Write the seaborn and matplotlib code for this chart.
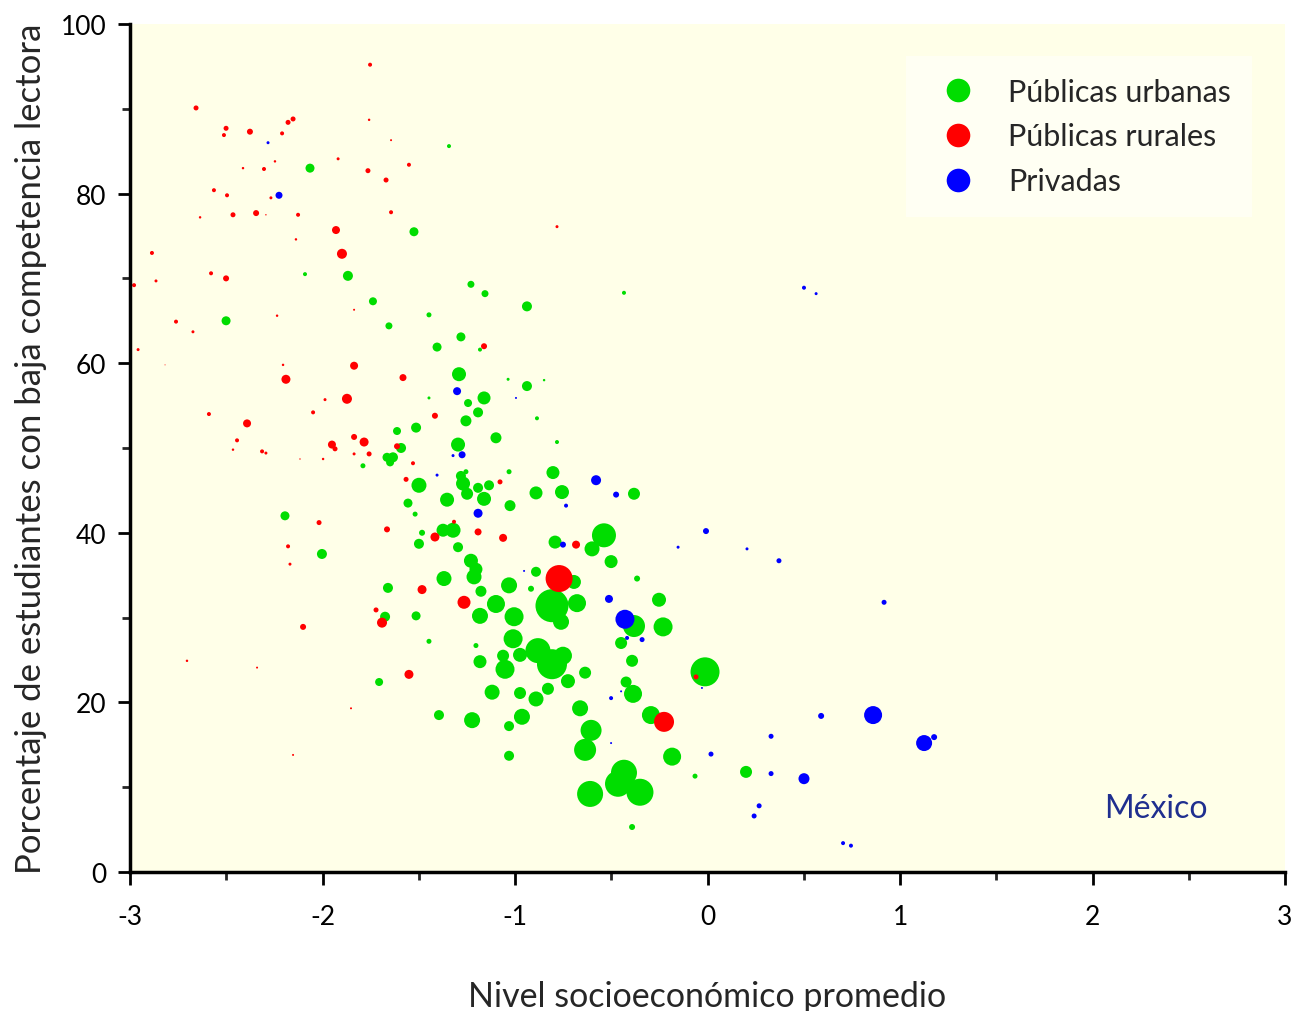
import numpy as np
import pandas as pd
import seaborn as sns
import matplotlib.pyplot as plt
from matplotlib.lines import Line2D

# Públicas urbanas: nivel socioeconómico, % baja competencia, alumnos evaluados
urb_x = [-2.065, -1.343, -1.525, -2.501, -1.868, -2.091, -1.738, -1.655, -1.447, -1.229,
         -1.156, -0.938, -0.434, -1.281, -1.405, -1.182, -1.291, -1.036, -0.938, -0.849,
         -1.447, -1.161, -1.244, -1.192, -1.255, -0.886, -1.514, -1.613, -1.099, -1.296,
         -1.592, -1.665, -1.634, -1.649, -0.782, -1.790, -1.499, -1.281, -1.255, -1.270,
         -1.249, -1.192, -1.135, -1.031, -0.803, -0.891, -0.756, -1.353, -1.161, -1.026,
         -1.556, -1.519, -1.374, -1.322, -1.483, -1.499, -1.296, -0.792, -0.382, -0.538,
         -0.600, -0.501, -0.366, -2.195, -2.003, -1.229, -1.203, -1.213, -1.369, -0.891,
         -1.031, -0.917, -1.660, -1.177, -1.099, -1.675, -1.514, -1.182, -1.005, -0.808,
         -0.694, -0.678, -0.252, -0.761, -0.382, -0.231, -1.447, -1.203, -1.010, -1.062,
         -0.974, -0.881, -0.808, -0.751, -0.725, -0.829, -1.182, -1.052, -0.636, -0.449,
         -0.392, -0.013, -0.423, -0.387, -1.706, -1.119, -0.974, -0.891, -0.662, -0.294,
         -1.395, -1.223, -0.964, -1.031, -0.605, -0.636, -1.031, -0.184, -0.434, -0.465,
         -0.351, -0.610, -0.392, -0.065, 0.200]
urb_y = [83.0, 85.6, 75.5, 65.0, 70.3, 70.5, 67.3, 64.4, 65.7, 69.3,
         68.2, 66.7, 68.3, 63.1, 61.9, 61.6, 58.7, 58.1, 57.3, 58.0,
         55.9, 55.9, 55.3, 54.2, 53.2, 53.5, 52.4, 52.0, 51.2, 50.4,
         50.0, 48.9, 48.9, 48.3, 50.7, 47.9, 45.6, 46.7, 47.2, 45.8,
         44.6, 45.3, 45.6, 47.2, 47.1, 44.7, 44.8, 43.9, 44.0, 43.2,
         43.5, 42.2, 40.3, 40.3, 40.0, 38.7, 38.3, 38.9, 44.6, 39.7,
         38.1, 36.6, 34.6, 42.0, 37.5, 36.7, 35.7, 34.8, 34.6, 35.4,
         33.8, 33.4, 33.5, 33.1, 31.6, 30.1, 30.2, 30.2, 30.1, 31.4,
         34.2, 31.7, 32.1, 29.5, 29.0, 28.9, 27.2, 26.7, 27.5, 25.5,
         25.6, 26.1, 24.5, 25.5, 22.5, 21.6, 24.8, 23.9, 23.5, 27.0,
         24.9, 23.6, 22.4, 21.0, 22.4, 21.2, 21.1, 20.4, 19.3, 18.5,
         18.5, 17.9, 18.3, 17.2, 16.7, 14.4, 13.7, 13.6, 11.7, 10.4,
         9.4, 9.2, 5.3, 11.3, 11.8]
urb_n = [81, 16, 81, 81, 100, 16, 64, 49, 25, 49,
         49, 100, 16, 81, 81, 16, 196, 9, 100, 6,
         9, 169, 64, 100, 121, 16, 100, 64, 121, 196,
         100, 81, 100, 64, 16, 25, 225, 100, 25, 196,
         144, 100, 100, 25, 169, 169, 196, 196, 196, 121,
         81, 25, 169, 225, 36, 100, 100, 169, 144, 576,
         225, 169, 36, 81, 100, 196, 169, 225, 225, 100,
         256, 36, 100, 121, 324, 100, 81, 256, 361, 1089,
         196, 324, 196, 256, 484, 361, 25, 25, 361, 144,
         196, 625, 900, 324, 196, 144, 169, 361, 144, 144,
         144, 841, 121, 324, 64, 225, 144, 225, 256, 324,
         100, 256, 256, 100, 441, 484, 100, 324, 676, 676,
         729, 676, 36, 25, 144]

# Públicas rurales
rur_x = [-1.753, -2.657, -2.501, -2.512, -2.377, -2.179, -2.153, -2.210, -2.247, -2.413,
         -2.304, -1.919, -2.564, -2.496, -2.268, -2.636, -2.465, -2.345, -2.294, -2.127,
         -2.138, -2.886, -2.579, -2.501, -2.979, -2.865, -2.761, -2.673, -2.236, -1.836,
         -2.958, -2.818, -2.205, -2.190, -1.987, -2.049, -2.590, -2.392, -2.444, -2.465,
         -2.314, -2.294, -2.117, -1.997, -1.951, -1.935, -1.836, -1.784, -1.836, -1.758,
         -1.836, -1.873, -1.930, -1.899, -1.582, -1.416, -1.613, -1.530, -1.566, -2.018,
         -2.179, -2.169, -2.101, -2.704, -2.340, -1.852, -2.153, -1.665, -1.416, -1.317,
         -1.192, -1.062, -1.483, -1.722, -1.691, -1.265, -1.551, -0.771, -0.683, -1.078,
         -1.161, -0.782, -1.758, -1.644, -1.551, -1.764, -1.670, -1.644, -0.226, -0.060]
rur_y = [95.2, 90.1, 87.7, 86.9, 87.3, 88.4, 88.8, 87.1, 83.8, 83.0,
         82.9, 84.1, 80.4, 79.8, 79.5, 77.2, 77.5, 77.7, 77.5, 77.5,
         74.6, 73.0, 70.6, 70.0, 69.2, 69.7, 64.9, 63.7, 65.6, 66.3,
         61.6, 59.8, 59.8, 58.1, 55.7, 54.2, 54.0, 52.9, 50.9, 49.8,
         49.6, 49.4, 48.7, 48.7, 50.4, 49.9, 51.3, 50.7, 49.3, 49.3,
         59.7, 55.8, 75.7, 72.9, 58.3, 53.8, 50.2, 48.2, 46.3, 41.2,
         38.4, 36.3, 28.9, 24.9, 24.1, 19.3, 13.8, 40.4, 39.5, 41.3,
         40.1, 39.4, 33.3, 30.9, 29.4, 31.8, 23.3, 34.6, 38.6, 46.0,
         62.0, 76.1, 88.7, 86.3, 83.4, 82.7, 81.6, 77.8, 17.7, 23.0]
rur_n = [16, 25, 25, 16, 36, 25, 25, 16, 6, 6,
         16, 9, 16, 16, 9, 6, 25, 36, 2, 16,
         6, 16, 16, 36, 16, 9, 16, 9, 6, 4,
         9, 1, 6, 81, 9, 16, 16, 64, 16, 6,
         16, 9, 2, 6, 64, 25, 36, 81, 9, 25,
         64, 100, 64, 100, 49, 36, 36, 16, 25, 25,
         16, 9, 36, 6, 4, 4, 4, 36, 81, 16,
         49, 64, 81, 25, 100, 169, 81, 729, 64, 25,
         36, 9, 6, 4, 16, 25, 25, 16, 400, 25]

# Privadas
priv_x = [-2.283, -2.226, -1.301, -0.995, -1.322, -1.275, -1.405, -1.192, -0.953, -0.735,
          -0.579, -0.475, -0.751, -0.512, -0.429, -0.418, -0.340, -0.449, -0.501, -0.501,
          -0.153, -0.029, 0.501, 0.564, -0.008, 0.205, 0.371, 0.917, 0.590, 0.860,
          1.125, 1.177, 0.330, 0.018, 0.330, 0.501, 0.268, 0.242, 0.704, 0.745]
priv_y = [86.0, 79.8, 56.7, 55.9, 49.1, 49.2, 46.8, 42.3, 35.5, 43.2,
          46.2, 44.5, 38.6, 32.2, 29.8, 27.6, 27.4, 21.3, 20.5, 15.2,
          38.3, 21.7, 68.9, 68.2, 40.2, 38.1, 36.7, 31.8, 18.4, 18.5,
          15.2, 15.9, 16.0, 13.9, 11.6, 11.0, 7.8, 6.6, 3.4, 3.1]
priv_n = [9, 49, 64, 4, 9, 49, 9, 81, 4, 16,
          100, 36, 36, 64, 361, 16, 25, 4, 16, 4,
          9, 4, 16, 9, 36, 9, 25, 25, 36, 324,
          256, 36, 25, 25, 25, 121, 25, 25, 16, 16]

categorias = ["Públicas urbanas", "Públicas rurales", "Privadas"]
colores = {"Públicas urbanas": "#00DD00", "Públicas rurales": "#FF0000", "Privadas": "#0000FF"}

df = pd.concat([
    pd.DataFrame({"nse": urb_x, "baja": urb_y, "alumnos": urb_n, "tipo": categorias[0]}),
    pd.DataFrame({"nse": rur_x, "baja": rur_y, "alumnos": rur_n, "tipo": categorias[1]}),
    pd.DataFrame({"nse": priv_x, "baja": priv_y, "alumnos": priv_n, "tipo": categorias[2]}),
], ignore_index=True)

sns.set_theme(style="ticks")
plt.rcParams["font.family"] = ["Lato", "DejaVu Sans"]
plt.rcParams["axes.unicode_minus"] = False

dpi = 100
fig = plt.figure(figsize=(12.91, 10.12), dpi=dpi)
ax = fig.add_axes([0.1007, 0.1374, 0.8947, 0.8379])
ax.set_facecolor("#FFFFE8")

# bubble area proportional to students; 1 student ~ 1 px^2 of area
nmax = df["alumnos"].max()
area_pt = nmax * (72 / dpi) ** 2
sns.scatterplot(data=df, x="nse", y="baja", hue="tipo", palette=colores,
                size="alumnos", sizes=(0, area_pt), size_norm=(0, nmax),
                linewidth=0, alpha=1, legend=False, ax=ax)

ax.set_xlim(-3, 3)
ax.set_ylim(0, 100)
ax.set_xticks(range(-3, 4))
ax.set_xticks(np.arange(-2.5, 3, 1.0), minor=True)
ax.set_yticks(range(0, 101, 20))
ax.set_yticks(range(10, 100, 20), minor=True)
ax.tick_params(axis="both", which="major", length=9, width=2, direction="out",
               labelsize=19, colors="black")
ax.tick_params(axis="x", which="major", pad=14)
ax.tick_params(axis="y", which="major", pad=8)
ax.tick_params(axis="both", which="minor", length=6, width=2, direction="out")
for s in ["top", "right"]:
    ax.spines[s].set_visible(False)
for s in ["left", "bottom"]:
    ax.spines[s].set_linewidth(2.5)
    ax.spines[s].set_color("black")

ax.set_xlabel("Nivel socioeconómico promedio", fontsize=24.5, labelpad=37)
ax.set_ylabel("Porcentaje de estudiantes con baja competencia lectora", fontsize=25, labelpad=10)

ax.text(2.33, 7.6, "México", color="#1F2F8F", fontsize=23, ha="center", va="center")

handles = [Line2D([0], [0], marker="o", linestyle="none", markersize=17,
                  markerfacecolor=colores[c], markeredgewidth=0, label=c) for c in categorias]
leg = ax.legend(handles=handles, loc="upper right", bbox_to_anchor=(0.985, 0.98),
                fontsize=22, frameon=True, facecolor="#FFFFF3", edgecolor="none",
                framealpha=1, handletextpad=0.65, labelspacing=0.55, borderpad=0.7,
                fancybox=False)

fig.savefig("out.png", dpi=dpi, facecolor="white")
